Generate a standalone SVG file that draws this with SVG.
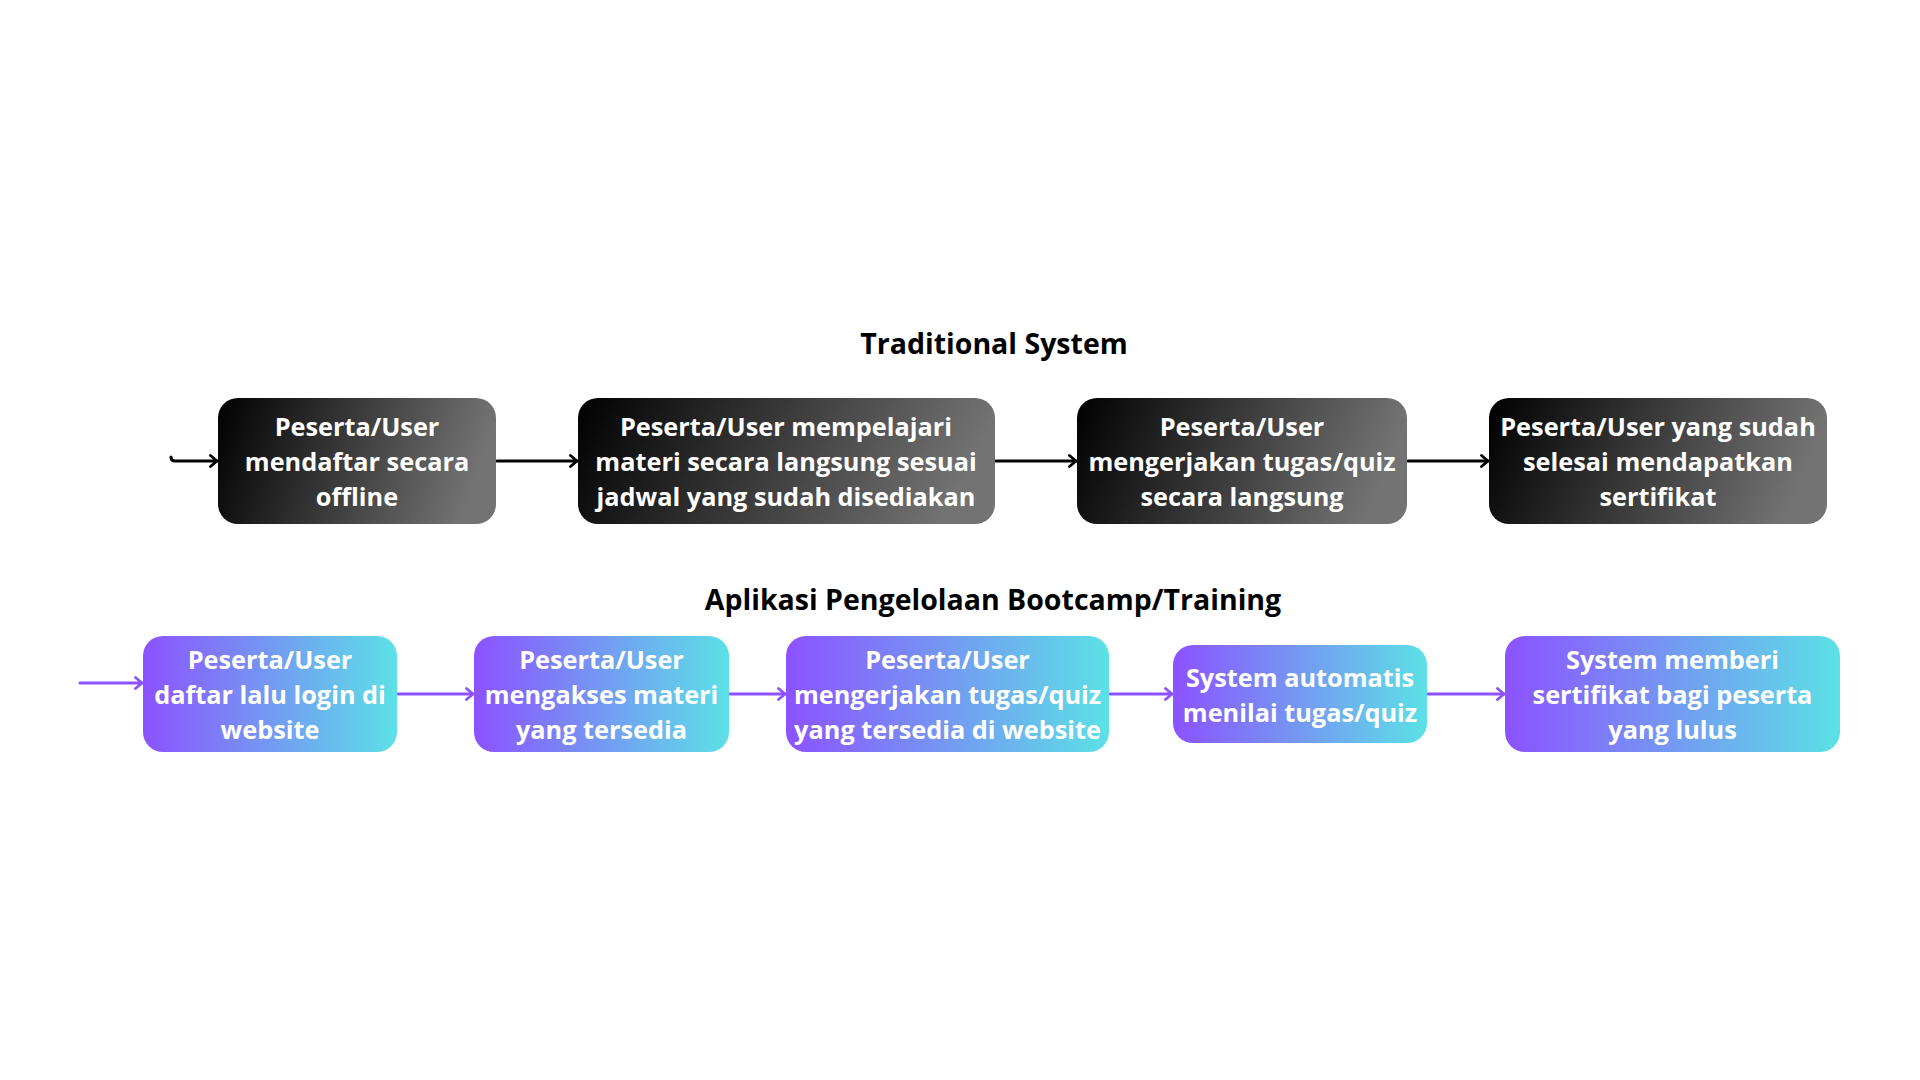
<svg xmlns="http://www.w3.org/2000/svg" width="1920" height="1080" viewBox="0 0 1920 1080">
  <defs>
    <linearGradient id="gBlack" x1="0" y1="0" x2="1" y2="0.15">
      <stop offset="0" stop-color="#000000"/>
      <stop offset="1" stop-color="#737373"/>
    </linearGradient>
    <linearGradient id="gPurple" x1="0" y1="0" x2="1" y2="0">
      <stop offset="0" stop-color="#8c52ff"/>
      <stop offset="1" stop-color="#5ce1e6"/>
    </linearGradient>
    <marker id="arrK" viewBox="0 0 10 14" markerWidth="10" markerHeight="14" refX="8" refY="7" orient="auto" markerUnits="userSpaceOnUse">
      <path d="M1.5,1.5 L8,7 L1.5,12.5" fill="none" stroke="#000" stroke-width="2.8" stroke-linecap="round" stroke-linejoin="round"/>
    </marker>
    <marker id="arrP" viewBox="0 0 10 14" markerWidth="10" markerHeight="14" refX="8" refY="7" orient="auto" markerUnits="userSpaceOnUse">
      <path d="M1.5,1.5 L8,7 L1.5,12.5" fill="none" stroke="#8c52ff" stroke-width="2.8" stroke-linecap="round" stroke-linejoin="round"/>
    </marker>
  </defs>
  <style>
    .title { font-family: "Open Sans", "Liberation Sans", sans-serif; font-weight: 700; font-size: 28.5px; fill: #000; text-anchor: middle; }
    .lbl { font-family: "Open Sans", "Liberation Sans", sans-serif; font-weight: 700; font-size: 25.3px; fill: #fff; text-anchor: middle; }
    .bk { fill: url(#gBlack); }
    .pp { fill: url(#gPurple); }
    .ck { fill: none; stroke: #000; stroke-width: 3; stroke-linecap: round; marker-end: url(#arrK); }
    .cp { fill: none; stroke: #8c52ff; stroke-width: 3; stroke-linecap: round; marker-end: url(#arrP); }
  </style>
  <rect width="1920" height="1080" fill="#ffffff"/>

  <text class="title" x="994" y="354">Traditional System</text>
  <text class="title" x="993" y="610">Aplikasi Pengelolaan Bootcamp/Training</text>

  <g id="connectors">
    <path class="ck" d="M171,457 Q171,461 175,461 L217,461"/>
    <path class="ck" d="M497,461 L577,461"/>
    <path class="ck" d="M996,461 L1076,461"/>
    <path class="ck" d="M1408,461 L1488,461"/>
    <path class="cp" d="M80,683 L142,683"/>
    <path class="cp" d="M398,694 L473,694"/>
    <path class="cp" d="M730,694 L785,694"/>
    <path class="cp" d="M1110,694 L1172,694"/>
    <path class="cp" d="M1428,694 L1504,694"/>
  </g>

  <g id="t1">
    <rect class="bk" x="218" y="398" width="278" height="126" rx="20"/>
    <text class="lbl" x="357"><tspan x="357" y="436">Peserta/User</tspan><tspan x="357" y="471">mendaftar secara</tspan><tspan x="357" y="506">offline</tspan></text>
  </g>
  <g id="t2">
    <rect class="bk" x="578" y="398" width="417" height="126" rx="20"/>
    <text class="lbl" x="786"><tspan x="786" y="436">Peserta/User mempelajari</tspan><tspan x="786" y="471">materi secara langsung sesuai</tspan><tspan x="786" y="506">jadwal yang sudah disediakan</tspan></text>
  </g>
  <g id="t3">
    <rect class="bk" x="1077" y="398" width="330" height="126" rx="20"/>
    <text class="lbl" x="1242"><tspan x="1242" y="436">Peserta/User</tspan><tspan x="1242" y="471">mengerjakan tugas/quiz</tspan><tspan x="1242" y="506">secara langsung</tspan></text>
  </g>
  <g id="t4">
    <rect class="bk" x="1489" y="398" width="338" height="126" rx="20"/>
    <text class="lbl" x="1658"><tspan x="1658" y="436">Peserta/User yang sudah</tspan><tspan x="1658" y="471">selesai mendapatkan</tspan><tspan x="1658" y="506">sertifikat</tspan></text>
  </g>

  <g id="a1">
    <rect class="pp" x="143" y="636" width="254" height="116" rx="20"/>
    <text class="lbl" x="270"><tspan x="270" y="669">Peserta/User</tspan><tspan x="270" y="704">daftar lalu login di</tspan><tspan x="270" y="739">website</tspan></text>
  </g>
  <g id="a2">
    <rect class="pp" x="474" y="636" width="255" height="116" rx="20"/>
    <text class="lbl" x="601.5"><tspan x="601.5" y="669">Peserta/User</tspan><tspan x="601.5" y="704">mengakses materi</tspan><tspan x="601.5" y="739">yang tersedia</tspan></text>
  </g>
  <g id="a3">
    <rect class="pp" x="786" y="636" width="323" height="116" rx="20"/>
    <text class="lbl" x="947.5"><tspan x="947.5" y="669">Peserta/User</tspan><tspan x="947.5" y="704">mengerjakan tugas/quiz</tspan><tspan x="947.5" y="739">yang tersedia di website</tspan></text>
  </g>
  <g id="a4">
    <rect class="pp" x="1173" y="645" width="254" height="98" rx="20"/>
    <text class="lbl" x="1300"><tspan x="1300" y="687">System automatis</tspan><tspan x="1300" y="722">menilai tugas/quiz</tspan></text>
  </g>
  <g id="a5">
    <rect class="pp" x="1505" y="636" width="335" height="116" rx="20"/>
    <text class="lbl" x="1672.5"><tspan x="1672.5" y="669">System memberi</tspan><tspan x="1672.5" y="704">sertifikat bagi peserta</tspan><tspan x="1672.5" y="739">yang lulus</tspan></text>
  </g>
</svg>
